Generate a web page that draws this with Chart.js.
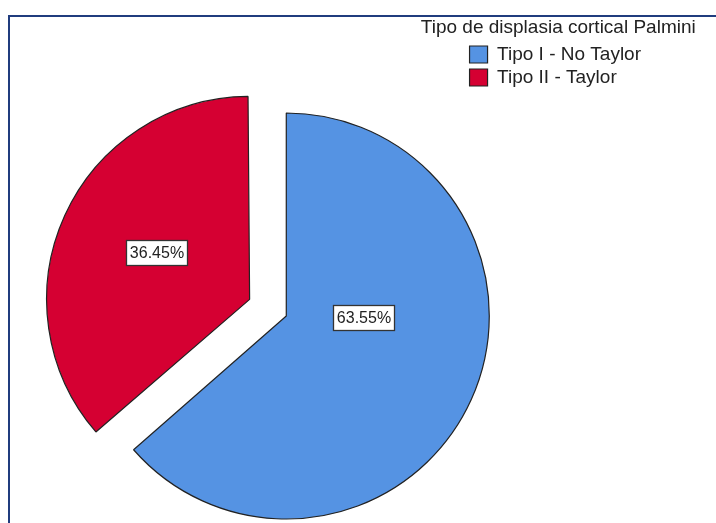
<!DOCTYPE html>
<html>
<head>
<meta charset="utf-8">
<script src="https://cdn.jsdelivr.net/npm/chart.js@4.4.0/dist/chart.umd.min.js"></script>
<style>
  html, body { margin: 0; padding: 0; background: #fff; overflow: hidden; width: 716px; height: 523px; }
  #frame { position: absolute; left: 8px; top: 15px; width: 900px; height: 700px; border: 2px solid #203c7e; }
  #canvas-pie { position: absolute; left: 0; top: 0; }
</style>
</head>
<body>
<div id="frame"></div>
<canvas id="canvas-pie" width="716" height="591"></canvas>
<script>
const categories = ["Tipo I - No Taylor", "Tipo II - Taylor"];
const percentages = [63.55, 36.45];
const legendTitle = "Tipo de displasia cortical Palmini";

window.onload = function () {
  const ctx = document.getElementById("canvas-pie");
  const fontFamily = "'Liberation Sans', Arial, sans-serif";
  Chart.defaults.font.family = fontFamily;

  const pieRadius = 203;

  // spot of each % box: fraction along the slice's arc, fraction of the radius
  const boxSpots = [
    { t: 0.398, r: 0.382 },
    { t: 0.518, r: 0.515 },
  ];

  // an exploded arc gets drawn a bit larger; pull it back so both slices share one radius
  const sameRadius = {
    id: "sameRadius",
    afterDatasetUpdate(chart, args) {
      args.meta.data.forEach((arc) => {
        const off = (arc.options.offset || 0) / 4;
        const fix = 1 - Math.sin(Math.min(Math.PI, arc.circumference));
        arc.outerRadius = pieRadius - off * fix;
      });
    },
  };

  // legend heading, centred over the legend items
  const legendHeading = {
    id: "legendHeading",
    afterDraw(chart) {
      const lg = chart.legend;
      const c = chart.ctx;
      c.save();
      c.font = "19px " + fontFamily;
      c.fillStyle = "#222222";
      c.textAlign = "center";
      c.textBaseline = "middle";
      c.fillText(legendTitle, lg.left + lg.width / 2, lg.top - 13.5);
      c.restore();
    },
  };

  const percentBoxes = {
    id: "percentBoxes",
    afterDatasetsDraw(chart) {
      const c = chart.ctx;
      const meta = chart.getDatasetMeta(0);
      c.save();
      c.font = "16px " + fontFamily;
      c.textAlign = "center";
      c.textBaseline = "middle";
      meta.data.forEach((arc, i) => {
        const p = arc.getProps(["x", "y", "startAngle", "endAngle"]);
        // same shift the arc element applies when a slice is pulled out
        const shift = (arc.options.offset || 0) / 4;
        const mid = (p.startAngle + p.endAngle) / 2;
        const cx = p.x + Math.cos(mid) * shift;
        const cy = p.y + Math.sin(mid) * shift;
        const spot = boxSpots[i];
        const a = p.startAngle + spot.t * (p.endAngle - p.startAngle);
        const lx = cx + Math.cos(a) * spot.r * pieRadius;
        const ly = cy + Math.sin(a) * spot.r * pieRadius;
        const text = percentages[i].toFixed(2) + "%";
        const w = Math.round(c.measureText(text).width + 7);
        const h = 25;
        const bx = Math.round(lx - w / 2) + 0.5;
        const by = Math.round(ly - h / 2) + 0.5;
        c.fillStyle = "#ffffff";
        c.fillRect(bx, by, w, h);
        c.strokeStyle = "#333333";
        c.lineWidth = 1.3;
        c.strokeRect(bx, by, w, h);
        c.fillStyle = "#222222";
        c.fillText(text, bx + w / 2, by + h / 2 + 0.5);
      });
      c.restore();
    },
  };

  const data = {
    labels: categories,
    datasets: [
      {
        data: percentages,
        backgroundColor: ["#5593e3", "#d50032"],
        borderColor: "#222222",
        borderWidth: 1.2,
        offset: [0, 161],
        hoverOffset: 0,
      },
    ],
  };

  const config = {
    type: "pie",
    data,
    options: {
      responsive: false,
      animation: false,
      devicePixelRatio: 1,
      events: [],
      radius: pieRadius,
      layout: {
        padding: { top: 41, right: 65, bottom: 0, left: 107 },
      },
      plugins: {
        tooltip: { enabled: false },
        legend: {
          display: true,
          position: "right",
          align: "start",
          labels: {
            boxWidth: 18,
            boxHeight: 17,
            padding: 4,
            color: "#222222",
            font: { size: 19 },
          },
        },
      },
    },
    plugins: [sameRadius, legendHeading, percentBoxes],
  };

  const myChart = new Chart(ctx, config);
};
</script>
</body>
</html>
